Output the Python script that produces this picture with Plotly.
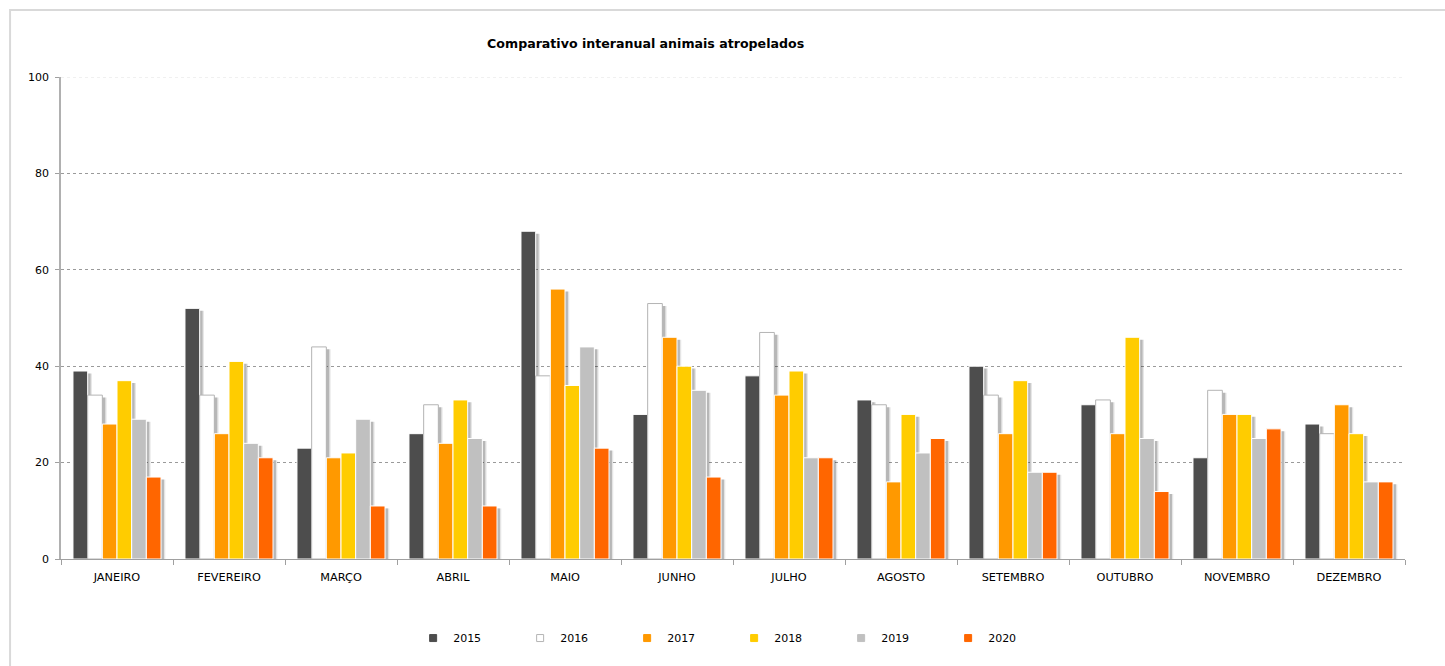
import plotly.graph_objects as go

# Monthly counts of run-over animals, one list per year
months = ["JANEIRO", "FEVEREIRO", "MARÇO", "ABRIL", "MAIO", "JUNHO",
          "JULHO", "AGOSTO", "SETEMBRO", "OUTUBRO", "NOVEMBRO", "DEZEMBRO"]
years = ["2015", "2016", "2017", "2018", "2019", "2020"]

v2015 = [39, 52, 23, 26, 68, 30, 38, 33, 40, 32, 21, 28]
v2016 = [34, 34, 44, 32, 38, 53, 47, 32, 34, 33, 35, 26]
v2017 = [28, 26, 21, 24, 56, 46, 34, 16, 26, 26, 30, 32]
v2018 = [37, 41, 22, 33, 36, 40, 39, 30, 37, 46, 30, 26]
v2019 = [29, 24, 29, 25, 44, 35, 21, 22, 18, 25, 25, 16]
v2020 = [17, 21, 11, 11, 23, 17, 21, 25, 18, 14, 27, 16]

series = [v2015, v2016, v2017, v2018, v2019, v2020]
colors = ["#4d4d4d", "#ffffff", "#ff9900", "#ffcc00", "#c0c0c0", "#ff6600"]
outlines = ["#ffffff", "#b4b4b4", "#ffffff", "#ffffff", "#ffffff", "#ffffff"]

FONT = "DejaVu Sans"
bar_w = 0.131
start = -0.393

fig = go.Figure()

# soft drop shadows behind each bar (two layers for a feathered edge)
for shift, alpha in ((0.038, 0.10), (0.026, 0.20)):
    for i, vals in enumerate(series):
        fig.add_trace(go.Bar(
            x=months, y=[v - 0.5 for v in vals],
            offset=start + i * bar_w + shift, width=bar_w,
            marker=dict(color=f"rgba(0,0,0,{alpha})", line=dict(width=0)),
            showlegend=False, hoverinfo="skip",
        ))

# the bars themselves
for i, vals in enumerate(series):
    fig.add_trace(go.Bar(
        x=months, y=vals, name=years[i],
        offset=start + i * bar_w, width=bar_w,
        marker=dict(color=colors[i], line=dict(color=outlines[i], width=1)),
        showlegend=False,
    ))

# small square legend keys
for i, yr in enumerate(years):
    fig.add_trace(go.Scatter(
        x=[None], y=[None], mode="markers", name=yr,
        marker=dict(symbol="square", size=7, color=colors[i],
                    line=dict(color=outlines[i] if i == 1 else colors[i], width=1)),
    ))

fig.update_layout(
    width=1445, height=666,
    barmode="overlay",
    paper_bgcolor="white", plot_bgcolor="white",
    margin=dict(l=61, r=40, t=77, b=107),
    font=dict(family=FONT, size=11, color="#000000"),
    title=dict(text="<b>Comparativo interanual animais atropelados</b>",
               x=0.435, xref="paper", xanchor="center",
               y=0.934, yref="container", yanchor="middle",
               font=dict(family=FONT, size=12.6, color="#000000")),
    showlegend=True,
    legend=dict(orientation="h", x=0.262, xanchor="left", y=-0.164, yanchor="middle",
                entrywidth=62, entrywidthmode="pixels", itemwidth=30,
                font=dict(family=FONT, size=11), bgcolor="rgba(0,0,0,0)"),
    xaxis=dict(type="category", range=[-0.5, 11.5], tickson="boundaries",
               ticks="outside", ticklen=5, tickcolor="#a0a0a0",
               showline=True, linecolor="#a0a0a0", linewidth=1,
               showgrid=False, tickfont=dict(size=11.3), ticklabelstandoff=7,
               fixedrange=True),
    yaxis=dict(range=[0, 100], dtick=20, tick0=0,
               ticks="outside", ticklen=4, tickcolor="#a0a0a0",
               showline=True, linecolor="#b0b0b0", linewidth=1.5,
               showgrid=True, gridcolor="#9a9a9a", griddash="3px,3px", gridwidth=1,
               zeroline=False, tickfont=dict(size=11), ticklabelstandoff=4,
               fixedrange=True),
    shapes=[
        dict(type="rect", xref="paper", yref="paper",
             x0=-0.0379, x1=1.2, y0=-0.5, y1=1.139,
             line=dict(color="#d9d9d9", width=2), fillcolor="rgba(0,0,0,0)",
             layer="below"),
        # faint top gridline at the axis maximum
        dict(type="line", xref="paper", yref="y", x0=0, x1=1, y0=100, y1=100,
             line=dict(color="#e2e2e2", width=1, dash="3px,3px"), layer="below"),
    ],
)

fig.write_html("out.html")
